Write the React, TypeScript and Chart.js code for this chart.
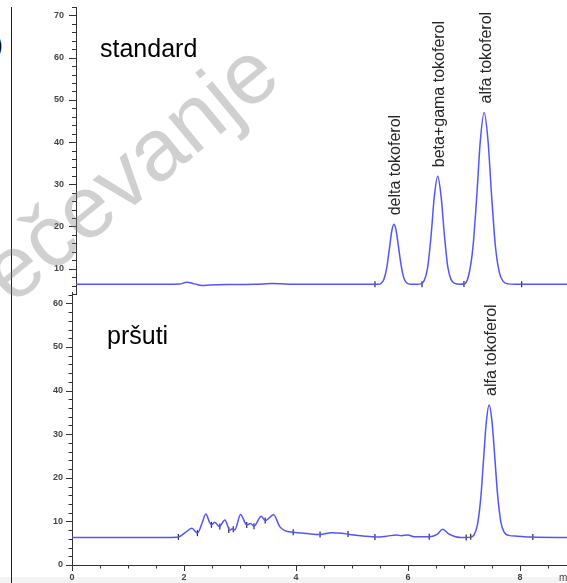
import React, { useEffect, useRef } from 'react';
import { Chart, registerables } from 'chart.js';

Chart.register(...registerables);

// ---- standard chromatogram (time in min, signal) ----
const stdTime = [0, 0.8, 1.6, 1.85, 1.98, 2.12, 2.25, 2.4, 2.8, 3.2, 3.5, 3.8, 4.3, 5.0, 5.40, 5.45, 5.50, 5.55, 5.60, 5.64, 5.68, 5.72, 5.76, 5.81, 5.86, 5.91, 5.98, 6.10, 6.16, 6.22, 6.28, 6.34, 6.40, 6.46, 6.52, 6.58, 6.64, 6.70, 6.77, 6.85, 6.95, 7.02, 7.09, 7.16, 7.22, 7.29, 7.36, 7.42, 7.49, 7.56, 7.63, 7.72, 7.85, 8.3, 8.8];
const stdSignal = [6.3, 6.3, 6.3, 6.35, 6.8, 6.4, 6.0, 6.15, 6.25, 6.3, 6.5, 6.3, 6.3, 6.3, 6.3, 6.55, 7.5, 10.2, 15.0, 18.9, 20.5, 18.9, 15.2, 10.6, 7.6, 6.6, 6.3, 6.3, 6.4, 7.2, 10.2, 17.5, 27.1, 31.9, 27.3, 18.0, 10.5, 7.4, 6.5, 6.3, 6.5, 8.8, 15.1, 27.5, 40.0, 47.0, 40.2, 28.0, 15.5, 9.2, 7.0, 6.4, 6.3, 6.3, 6.3];
const stdMarkTime = [5.34, 6.18, 6.93, 7.96];
const stdMarkSignal = [6.3, 6.3, 6.35, 6.3];
const stdPeakNames = ['delta tokoferol', 'beta+gama tokoferol', 'alfa tokoferol'];
const stdPeakTime = [5.68, 6.46, 7.29];
const stdPeakSignal = [20.5, 31.9, 47.0];

// ---- pršuti chromatogram ----
const prsTime = [0, 1.0, 1.7, 1.90, 2.02, 2.14, 2.24, 2.32, 2.39, 2.45, 2.49, 2.55, 2.63, 2.73, 2.82, 2.86, 2.91, 3.01, 3.12, 3.19, 3.25, 3.38, 3.45, 3.60, 3.71, 3.80, 3.95, 4.2, 4.43, 4.64, 4.82, 4.96, 5.20, 5.44, 5.62, 5.80, 5.88, 6.00, 6.10, 6.39, 6.52, 6.62, 6.72, 6.85, 7.05, 7.12, 7.18, 7.24, 7.30, 7.35, 7.40, 7.45, 7.50, 7.55, 7.60, 7.66, 7.72, 7.80, 7.95, 8.20, 8.85];
const prsSignal = [6.3, 6.3, 6.3, 6.4, 7.4, 8.4, 7.3, 9.5, 11.7, 10.0, 9.2, 9.8, 8.8, 10.3, 8.0, 8.3, 8.1, 11.6, 9.2, 9.5, 8.9, 11.2, 10.2, 11.5, 8.8, 7.9, 7.5, 7.2, 7.0, 7.4, 7.3, 7.0, 6.65, 6.4, 6.6, 6.9, 6.7, 6.9, 6.5, 6.5, 7.0, 8.2, 7.2, 6.5, 6.3, 6.4, 6.9, 9.2, 15.4, 24.2, 32.9, 36.7, 33.0, 24.8, 16.2, 9.8, 7.5, 6.8, 6.6, 6.4, 6.3];
const prsMarkTime = [1.90, 2.24, 2.49, 2.64, 2.80, 2.88, 3.12, 3.25, 3.45, 3.95, 4.43, 4.93, 5.41, 6.38, 7.04, 7.12, 8.23];
const prsMarkSignal = [6.4, 7.3, 9.2, 8.8, 8.0, 8.2, 9.2, 8.9, 10.2, 7.5, 7.0, 7.1, 6.4, 6.5, 6.3, 6.5, 6.4];
const prsPeakNames = ['alfa tokoferol'];
const prsPeakTime = [7.45];
const prsPeakSignal = [36.7];

// ---- axes ----
const stdYRange = [4, 72];
const prsYRange = [0, 62.6];
const stdXRange = [0, 8.77];
const prsXRange = [0, 8.84];
const yLabelEvery = 10;
const yTickStep = 2;
const xLabelEvery = 2;
const xTickStep = 0.5;
const xUnitLabel = 'min';

const FONT = "'Liberation Sans', Arial, Helvetica, sans-serif";
const LINE_COLOR = '#5454ff';
const TICK_COLOR = '#4a4242';

const isMult = (v: number, m: number) => Math.abs(v / m - Math.round(v / m)) < 1e-6;

function makePlugins(names: string[], times: number[], signals: number[], showUnit: boolean, yMajorLen: number, yMinorLen: number) {
  return [
    {
      id: 'customTicks',
      afterDraw(chart: any) {
        const ctx = chart.ctx;
        ctx.save();
        ctx.strokeStyle = '#333';
        ctx.lineWidth = 1;
        const ys = chart.scales.y;
        ys.ticks.forEach((t: any) => {
          const py = Math.round(ys.getPixelForValue(t.value)) + 0.5;
          const len = isMult(t.value, yLabelEvery) ? yMajorLen : yMinorLen;
          ctx.beginPath();
          ctx.moveTo(ys.right - len, py);
          ctx.lineTo(ys.right, py);
          ctx.stroke();
        });
        const xs = chart.scales.x;
        if (xs.options.display) {
          xs.ticks.forEach((t: any) => {
            const px = Math.round(xs.getPixelForValue(t.value)) + 0.5;
            const len = isMult(t.value, xLabelEvery) ? 6 : 3.5;
            ctx.beginPath();
            ctx.moveTo(px, xs.top);
            ctx.lineTo(px, xs.top + len);
            ctx.stroke();
          });
          if (showUnit) {
            ctx.fillStyle = TICK_COLOR;
            ctx.font = `10px ${FONT}`;
            ctx.textAlign = 'left';
            ctx.textBaseline = 'top';
            ctx.fillText(xUnitLabel, xs.right - 8, xs.top + 8);
          }
        }
        ctx.restore();
      },
    },
    {
      id: 'peakLabels',
      afterDatasetsDraw(chart: any) {
        const ctx = chart.ctx;
        const xs = chart.scales.x;
        const ys = chart.scales.y;
        ctx.save();
        ctx.font = `16px ${FONT}`;
        ctx.fillStyle = '#262626';
        names.forEach((name, i) => {
          const px = xs.getPixelForValue(times[i]) + 2;
          const py = ys.getPixelForValue(signals[i]) - 9;
          ctx.save();
          ctx.translate(px, py);
          ctx.rotate(-Math.PI / 2);
          ctx.textAlign = 'left';
          ctx.textBaseline = 'middle';
          ctx.fillText(name, 0, 0);
          ctx.restore();
        });
        ctx.restore();
      },
    },
  ];
}

function buildConfig(
  time: number[], signal: number[], markT: number[], markS: number[],
  yRange: number[], xRange: number[], showX: boolean, yWidth: number,
  yMajorLen: number, yPad: number, padding: any, plugins: any[]
): any {
  return {
    type: 'line',
    data: {
      datasets: [
        {
          data: time.map((t, i) => ({ x: t, y: signal[i] })),
          borderColor: LINE_COLOR,
          borderWidth: 1.5,
          pointRadius: 0,
          cubicInterpolationMode: 'monotone',
          fill: false,
        },
        {
          data: markT.map((t, i) => ({ x: t, y: markS[i] })),
          showLine: false,
          pointStyle: 'line',
          pointRotation: 90,
          pointRadius: 3,
          pointBorderColor: '#2a2a2a',
          pointBorderWidth: 1.2,
          pointBackgroundColor: '#2a2a2a',
        },
      ],
    },
    options: {
      animation: false,
      responsive: false,
      maintainAspectRatio: false,
      events: [],
      layout: { padding, autoPadding: false },
      plugins: { legend: { display: false }, tooltip: { enabled: false }, title: { display: false } },
      scales: {
        x: {
          type: 'linear',
          display: showX,
          min: xRange[0],
          max: xRange[1],
          afterFit: (s: any) => {
            if (showX) s.height = 18;
            s.paddingLeft = 0;
            s.paddingRight = 0;
          },
          grid: { display: false, drawTicks: true, tickLength: 6 },
          border: { display: true, color: '#333', width: 1 },
          ticks: {
            stepSize: xTickStep,
            autoSkip: false,
            includeBounds: false,
            maxRotation: 0,
            padding: 1,
            color: TICK_COLOR,
            font: { family: FONT, size: 9, weight: 'bold' },
            callback: (v: number) => (isMult(v, xLabelEvery) ? String(v) : ''),
          },
        },
        y: {
          type: 'linear',
          min: yRange[0],
          max: yRange[1],
          afterFit: (s: any) => {
            s.width = yWidth;
            s.paddingTop = 0;
            s.paddingBottom = 0;
          },
          grid: { display: false, drawTicks: true, tickLength: yMajorLen },
          border: { display: true, color: '#333', width: 1 },
          ticks: {
            stepSize: yTickStep,
            autoSkip: false,
            includeBounds: false,
            padding: yPad,
            color: TICK_COLOR,
            font: { family: FONT, size: 9, weight: 'bold' },
            callback: (v: number) => (isMult(v, yLabelEvery) ? String(v) : ''),
          },
        },
      },
    },
    plugins,
  };
}

function ChartCanvas({ config, style, width, height }: any) {
  const ref = useRef<HTMLCanvasElement>(null);
  useEffect(() => {
    if (!ref.current) return;
    const chart = new Chart(ref.current, config());
    return () => chart.destroy();
  }, []);
  return <canvas ref={ref} width={width} height={height} style={{ position: 'absolute', width, height, ...style }} />;
}

export default function App() {
  const topConfig = () =>
    buildConfig(stdTime, stdSignal, stdMarkTime, stdMarkSignal, stdYRange, stdXRange, false, 76, 7, 5,
      { top: 7, bottom: 6, left: 0, right: 0 },
      makePlugins(stdPeakNames, stdPeakTime, stdPeakSignal, false, 7, 4));
  const bottomConfig = () =>
    buildConfig(prsTime, prsSignal, prsMarkTime, prsMarkSignal, prsYRange, prsXRange, true, 72, 6, 3,
      { top: 12, bottom: 0, left: 0, right: 0 },
      makePlugins(prsPeakNames, prsPeakTime, prsPeakSignal, true, 6, 3.5));

  return (
    <div style={{ position: 'absolute', left: 0, top: 0, width: 567, height: 583, overflow: 'hidden', background: '#fff', fontFamily: FONT }}>
      <div style={{ position: 'absolute', left: 0, top: 577, width: 567, height: 6, background: '#f3f3f3' }} />
      <div style={{ position: 'absolute', left: 11, top: 7, width: 1, height: 576, background: '#222' }} />
      <div style={{ position: 'absolute', left: -5, top: 33, fontSize: 22, fontWeight: 'bold', lineHeight: '24px', color: '#000' }}>)</div>
      <ChartCanvas config={topConfig} width={567} height={300} style={{ left: 0, top: 0 }} />
      <ChartCanvas config={bottomConfig} width={567} height={303} style={{ left: 0, top: 280 }} />
      <div style={{ position: 'absolute', left: 100, top: 36, fontSize: 25, lineHeight: '25px', color: '#000' }}>standard</div>
      <div style={{ position: 'absolute', left: 107, top: 323, fontSize: 25, lineHeight: '25px', color: '#000' }}>pršuti</div>
      <div
        style={{
          position: 'absolute',
          left: 129,
          top: 171,
          transform: 'translate(-50%, -50%) rotate(-39.5deg)',
          fontSize: 88,
          lineHeight: 1,
          color: 'rgba(120,120,120,0.35)',
          whiteSpace: 'nowrap',
          pointerEvents: 'none',
        }}
      >
        ečevanje
      </div>
    </div>
  );
}
